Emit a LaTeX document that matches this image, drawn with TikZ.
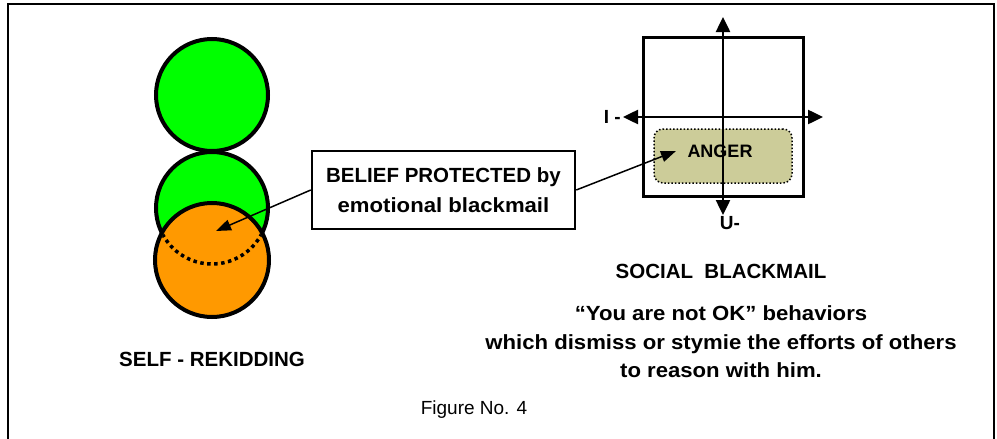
\documentclass[tikz,border=0pt]{standalone}
\usepackage{fontspec}
\setmainfont{Liberation Sans}
\newfontfamily\wide{Liberation Sans}[FakeStretch=1.08]
\usetikzlibrary{arrows.meta}
\definecolor{ballgreen}{RGB}{0,255,0}
\definecolor{ballorange}{RGB}{255,153,0}
\definecolor{angerfill}{RGB}{204,204,153}

\begin{document}
\begin{tikzpicture}[x=1pt,y=-1pt,
    ball/.style={circle,draw,line width=4pt,minimum size=112pt,inner sep=0pt,outer sep=0pt},
    caption/.style={font=\fontsize{20.5}{30}\selectfont\bfseries,align=center},
    pointer/.style={-{Triangle[length=15pt,width=11pt]},line width=1.5pt},
    axis/.style={{Triangle[length=15pt,width=14pt]}-{Triangle[length=15pt,width=14pt]},line width=2.5pt}]
    \useasboundingbox (0,0) rectangle (997,439);
    \draw[line width=1.5pt] (8,439) -- (8,4) -- (994,4) -- (994,439);

    \node[ball,fill=ballgreen] (upper) at (212,95) {};
    \node[ball,fill=ballgreen] (middle) at (212,208) {};
    \node[ball,fill=ballorange,minimum size=114pt] (self) at (212,260) {};
    \begin{scope}
        \clip (212,260) circle[radius=55pt];
        \draw[line width=3.5pt,dash pattern=on 3.5pt off 3.5pt] (212,208) circle[radius=56pt];
    \end{scope}
    \coordinate (core) at (216,231);

    \node[draw,line width=3pt,minimum width=160pt,minimum height=159pt] (grid) at (723,116.5) {};
    \node[draw,dotted,line width=1.5pt,fill=angerfill,rounded corners=9pt,
        minimum width=138pt,minimum height=54pt] (anger) at (723,156) {};
    \coordinate (north end) at (723,17);
    \coordinate (south end) at (723,215);
    \coordinate (west end) at (623,117);
    \coordinate (east end) at (823,117);
    \draw[axis] (north end) -- (south end);
    \draw[axis] (west end) -- (east end);
    \node[font=\fontsize{18}{18}\selectfont\bfseries] (angertext) at (720,151) {ANGER};
    \node[font=\fontsize{19}{19}\selectfont\bfseries,anchor=east,inner sep=2pt] (ilabel) at (west end) {I -};
    \node[font=\fontsize{19}{19}\selectfont\bfseries] (ulabel) at (730,223) {U-};

    \node[caption,draw,line width=2.5pt,minimum width=263pt,minimum height=78pt] (belief) at (443.5,190)
        {BELIEF PROTECTED by\\{\wide emotional blackmail}};
    \draw[pointer] (belief.west) -- (core);
    \draw[pointer] (belief.east) -- ([xshift=-8pt]angertext.west);

    \node[caption] (selftitle) at (212,359) {SELF - REKIDDING};
    \node[caption,anchor=base] (social) at (721,278) {SOCIAL\ \ BLACKMAIL};
    \node[caption,anchor=base] (notok) at (721,320) {\wide “You are not OK” behaviors};
    \node[caption,anchor=base] (dismiss) at (721,349) {\wide which dismiss or stymie the efforts of others};
    \node[caption,anchor=base] (reason) at (721,377) {\wide to reason with him.};

    \node[font=\fontsize{19}{19}\selectfont] (figure) at (474,410) {Figure No. 4};
\end{tikzpicture}
\end{document}
